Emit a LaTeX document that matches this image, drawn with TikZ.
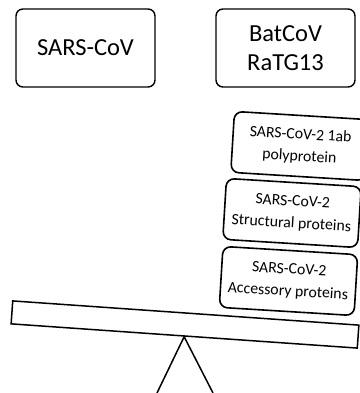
\documentclass[tikz,border=0pt]{standalone}
\usepackage{fontspec}
\setmainfont{Carlito}
\usetikzlibrary{positioning}
\tikzset{
  sw box/.style={draw=black, line width=1.4pt, rounded corners=7pt, fill=white,
    minimum width=139pt, minimum height=78pt, inner sep=0pt, align=center,
    font=\fontsize{24.5}{29}\selectfont},
  sw protein/.style={draw=black, line width=1.6pt, rounded corners=8pt, fill=white,
    minimum width=135pt, minimum height=61pt, inner sep=0pt, align=center,
    rotate=-3.5, font=\fontsize{15.8}{22}\selectfont},
  sw plank/.style={draw=black, line width=1.5pt, fill=white,
    minimum width=347pt, minimum height=23pt, inner sep=0pt, rotate=-4},
  sw line/.style={draw=black, line width=1.5pt}
}

\begin{document}
\begin{tikzpicture}[x=1pt, y=1pt]
  \useasboundingbox (0,0) rectangle (359,393);
  \node[sw box] (sars) at (85.5,345) {SARS-CoV};
  \node[sw box] (ratg) at (285.5,345) {BatCoV\\RaTG13};
  \node[sw plank] (plank) at (185,68.5) {};
  % proteins stacked on the low end of the plank
  \node[sw protein] (access) at (288.5,112) {SARS-CoV-2\\Accessory proteins};
  \node[sw protein] (struct) at (292,180) {SARS-CoV-2\\Structural proteins};
  \node[sw protein] (polyp) at (300,247) {SARS-CoV-2 1ab\\polyprotein};
  \coordinate (base left) at (157,0);
  \coordinate (base right) at (213,0);
  \draw[sw line] (base left) -- (plank.south) -- (base right);
\end{tikzpicture}
\end{document}
